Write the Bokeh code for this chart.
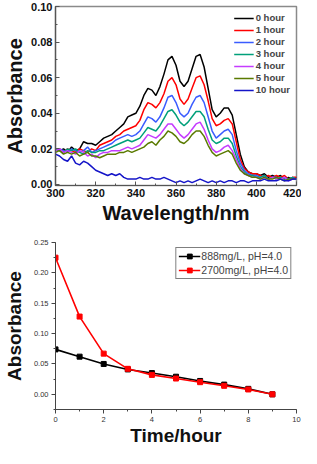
from bokeh.plotting import figure
from bokeh.layouts import column
from bokeh.models import SingleIntervalTicker, NumeralTickFormatter, Legend, LegendItem
from bokeh.embed import file_html
from bokeh.resources import INLINE

# ---------------- data: top chart (UV-vis spectra) ----------------
wavelength = list(range(300, 421, 2))

abs_0h = [0.020, 0.019, 0.020, 0.018, 0.021, 0.019, 0.020, 0.024, 0.023, 0.023,
          0.022, 0.024, 0.026, 0.027, 0.028, 0.030, 0.032, 0.034, 0.038, 0.039,
          0.040, 0.044, 0.050, 0.054, 0.053, 0.050, 0.055, 0.062, 0.070, 0.072,
          0.067, 0.058, 0.055, 0.058, 0.065, 0.072, 0.073, 0.066, 0.054, 0.042,
          0.038, 0.040, 0.043, 0.043, 0.039, 0.028, 0.017, 0.010, 0.007, 0.006,
          0.006, 0.005, 0.006, 0.004, 0.005, 0.004, 0.005, 0.003, 0.004, 0.003, 0.004]
abs_1h = [0.019, 0.020, 0.018, 0.020, 0.019, 0.018, 0.020, 0.019, 0.018, 0.020,
          0.019, 0.022, 0.023, 0.024, 0.025, 0.027, 0.028, 0.030, 0.031, 0.032,
          0.033, 0.036, 0.042, 0.046, 0.045, 0.043, 0.046, 0.051, 0.058, 0.060,
          0.056, 0.048, 0.045, 0.048, 0.054, 0.060, 0.061, 0.056, 0.047, 0.037,
          0.033, 0.034, 0.036, 0.037, 0.034, 0.024, 0.014, 0.009, 0.007, 0.006,
          0.006, 0.005, 0.004, 0.005, 0.004, 0.005, 0.004, 0.005, 0.003, 0.004, 0.004]
abs_2h = [0.019, 0.020, 0.019, 0.018, 0.020, 0.019, 0.018, 0.019, 0.021, 0.018,
          0.019, 0.020, 0.021, 0.022, 0.023, 0.025, 0.026, 0.027, 0.028, 0.027,
          0.028, 0.030, 0.034, 0.038, 0.037, 0.035, 0.038, 0.043, 0.049, 0.050,
          0.046, 0.040, 0.038, 0.040, 0.045, 0.049, 0.050, 0.046, 0.038, 0.030,
          0.026, 0.028, 0.030, 0.031, 0.028, 0.019, 0.012, 0.008, 0.006, 0.005,
          0.005, 0.004, 0.005, 0.003, 0.004, 0.004, 0.003, 0.004, 0.003, 0.004, 0.003]
abs_3h = [0.020, 0.019, 0.018, 0.020, 0.019, 0.020, 0.018, 0.017, 0.019, 0.018,
          0.018, 0.019, 0.019, 0.020, 0.021, 0.022, 0.023, 0.024, 0.025, 0.024,
          0.025, 0.026, 0.029, 0.032, 0.031, 0.030, 0.033, 0.037, 0.041, 0.042,
          0.039, 0.035, 0.033, 0.035, 0.038, 0.041, 0.041, 0.038, 0.031, 0.025,
          0.023, 0.024, 0.026, 0.026, 0.023, 0.016, 0.010, 0.007, 0.005, 0.005,
          0.004, 0.004, 0.005, 0.003, 0.004, 0.003, 0.004, 0.003, 0.003, 0.004, 0.003]
abs_4h = [0.019, 0.020, 0.018, 0.019, 0.018, 0.017, 0.019, 0.018, 0.016, 0.017,
          0.015, 0.017, 0.018, 0.018, 0.019, 0.019, 0.019, 0.020, 0.021, 0.020,
          0.021, 0.022, 0.025, 0.028, 0.027, 0.026, 0.028, 0.031, 0.034, 0.034,
          0.031, 0.028, 0.026, 0.028, 0.031, 0.034, 0.035, 0.031, 0.025, 0.020,
          0.018, 0.019, 0.021, 0.022, 0.019, 0.014, 0.009, 0.006, 0.005, 0.004,
          0.004, 0.003, 0.004, 0.003, 0.004, 0.003, 0.003, 0.004, 0.002, 0.003, 0.003]
abs_5h = [0.018, 0.019, 0.017, 0.018, 0.017, 0.018, 0.016, 0.017, 0.018, 0.016,
          0.016, 0.015, 0.016, 0.017, 0.017, 0.017, 0.018, 0.018, 0.019, 0.018,
          0.019, 0.020, 0.021, 0.023, 0.024, 0.022, 0.025, 0.027, 0.030, 0.029,
          0.027, 0.024, 0.023, 0.025, 0.028, 0.030, 0.030, 0.027, 0.022, 0.018,
          0.016, 0.017, 0.018, 0.019, 0.017, 0.012, 0.008, 0.006, 0.005, 0.004,
          0.004, 0.003, 0.004, 0.003, 0.003, 0.004, 0.003, 0.002, 0.003, 0.003, 0.003]
abs_10h = [0.017, 0.016, 0.014, 0.013, 0.016, 0.012, 0.011, 0.013, 0.012, 0.010,
           0.008, 0.007, 0.006, 0.005, 0.006, 0.005, 0.006, 0.004, 0.003, 0.003,
           0.003, 0.004, 0.003, 0.003, 0.004, 0.003, 0.003, 0.004, 0.003, 0.002,
           0.001, 0.002, 0.001, 0.002, 0.001, 0.002, 0.003, 0.002, 0.001, 0.002,
           0.001, 0.002, 0.001, 0.002, 0.002, 0.001, 0.002, 0.002, 0.001, 0.002,
           0.002, 0.002, 0.003, 0.002, 0.002, 0.002, 0.003, 0.002, 0.002, 0.003, 0.003]

spectra_labels = ["0 hour", "1 hour", "2 hour", "3 hour", "4 hour", "5 hour", "10 hour"]
spectra = [abs_0h, abs_1h, abs_2h, abs_3h, abs_4h, abs_5h, abs_10h]
spectra_colors = ["#000000", "#ff0000", "#3a5cff", "#00a07a", "#c53cff", "#5a7a00", "#1414c8"]

# ---------------- data: bottom chart (kinetics) ----------------
time_h = [0, 1, 2, 3, 4, 5, 6, 7, 8, 9]
abs_888 = [0.074, 0.062, 0.050, 0.041, 0.035, 0.029, 0.022, 0.016, 0.009, 0.000]
abs_2700 = [0.225, 0.128, 0.067, 0.042, 0.032, 0.026, 0.020, 0.014, 0.008, 0.000]
kin_labels = ["888mg/L, pH=4.0", "2700mg/L, pH=4.0"]
kin_colors = ["#000000", "#ff0000"]

FONT = "Liberation Sans"

# ---------------- top figure ----------------
p1 = figure(width=301, height=226, x_range=(300, 420), y_range=(-0.0006, 0.10),
            output_backend="svg", toolbar_location=None,
            min_border_top=6, min_border_right=3, min_border_left=10, min_border_bottom=10)
p1.grid.visible = False
p1.outline_line_color = "#8a8a8a"
p1.outline_line_width = 1.5
p1.background_fill_color = "white"

items = []
for lab, ys, col in zip(spectra_labels, spectra, spectra_colors):
    r = p1.line(wavelength, ys, line_color=col, line_width=1.5)
    items.append(LegendItem(label=lab, renderers=[r]))

leg1 = Legend(items=items, location="top_right", border_line_color=None,
              background_fill_alpha=0, label_text_font=FONT, label_text_font_style="bold",
              label_text_font_size="9.5px", glyph_width=20, glyph_height=10,
              label_height=10, spacing=1, padding=2, margin=6, label_standoff=2)
p1.add_layout(leg1)

p1.xaxis.ticker = SingleIntervalTicker(interval=20, num_minor_ticks=2)
p1.yaxis.ticker = SingleIntervalTicker(interval=0.02, num_minor_ticks=2)
p1.yaxis.formatter = NumeralTickFormatter(format="0.00")
for ax in (p1.xaxis[0], p1.yaxis[0]):
    ax.axis_line_color = "#555555"
    ax.axis_line_width = 1.2
    ax.major_tick_in = 4
    ax.major_tick_out = 0
    ax.minor_tick_in = 2
    ax.minor_tick_out = 0
    ax.major_tick_line_color = "#555555"
    ax.minor_tick_line_color = "#555555"
    ax.major_label_text_font = FONT
    ax.major_label_text_font_style = "bold"
    ax.major_label_text_font_size = "11px"
    ax.major_label_text_color = "#111111"
    ax.major_label_standoff = 3
    ax.axis_label_text_font = FONT
    ax.axis_label_text_font_style = "bold"
    ax.axis_label_text_font_size = "20px"
    ax.axis_label_text_color = "#111111"
    ax.axis_label_standoff = 2
p1.xaxis.axis_label = "Wavelength/nm"
p1.yaxis.axis_label = "Absorbance"

# ---------------- bottom figure ----------------
p2 = figure(width=301, height=222, x_range=(0, 10), y_range=(-0.025, 0.25),
            output_backend="svg", toolbar_location=None,
            min_border_top=16, min_border_right=5, min_border_left=10, min_border_bottom=10)
p2.grid.visible = False
p2.outline_line_color = None

k_items = []
for lab, ys, col in zip(kin_labels, [abs_888, abs_2700], kin_colors):
    rl = p2.line(time_h, ys, line_color=col, line_width=1.6)
    rs = p2.scatter(time_h, ys, marker="square", size=5, fill_color=col, line_color=col)
    k_items.append(LegendItem(label=lab, renderers=[rl, rs]))

leg2 = Legend(items=k_items, location="top_right", border_line_color="#000000",
              border_line_width=1, background_fill_color="white", background_fill_alpha=1,
              label_text_font=FONT, label_text_font_size="10.5px", glyph_width=22,
              glyph_height=12, label_height=12, spacing=2, padding=2, margin=5,
              label_standoff=1)
p2.add_layout(leg2)

p2.xaxis.ticker = SingleIntervalTicker(interval=2, num_minor_ticks=2)
p2.yaxis.ticker = SingleIntervalTicker(interval=0.05, num_minor_ticks=2)
p2.yaxis.formatter = NumeralTickFormatter(format="0.00")
for ax in (p2.xaxis[0], p2.yaxis[0]):
    ax.axis_line_color = "#444444"
    ax.axis_line_width = 1
    ax.major_tick_in = 0
    ax.major_tick_out = 4
    ax.minor_tick_in = 0
    ax.minor_tick_out = 2
    ax.major_tick_line_color = "#444444"
    ax.minor_tick_line_color = "#444444"
    ax.major_label_text_font = FONT
    ax.major_label_text_font_size = "7.5px"
    ax.major_label_text_color = "#333333"
    ax.major_label_standoff = 3
    ax.axis_label_text_font = FONT
    ax.axis_label_text_font_style = "bold"
    ax.axis_label_text_font_size = "19px"
    ax.axis_label_text_color = "#111111"
p2.xaxis.axis_label_standoff = 0
p2.yaxis.axis_label_standoff = 6
p2.xaxis.axis_label = "Time/hour"
p2.yaxis.axis_label = "Absorbance"

layout = column(p1, p2, spacing=0)
open("out.html", "w").write(file_html(layout, INLINE))
